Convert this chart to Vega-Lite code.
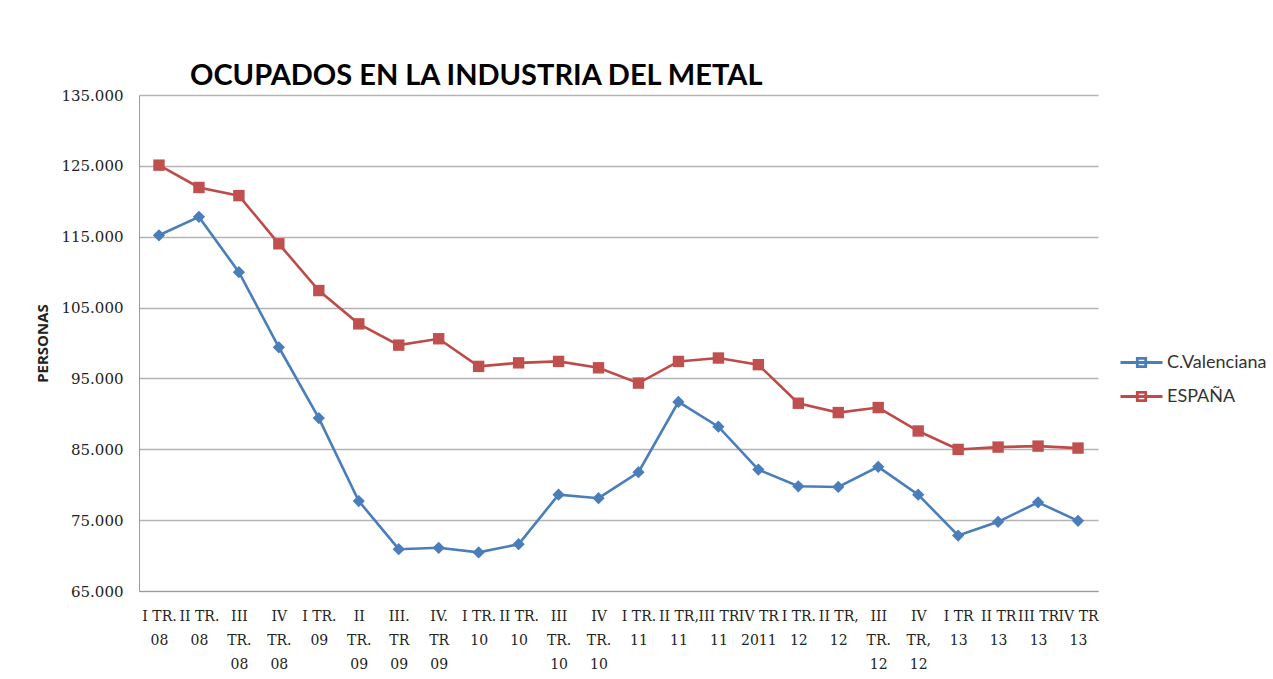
{
  "$schema": "https://vega.github.io/schema/vega-lite/v6.json",
  "autosize": {"type": "none"},
  "padding": {"left": 139, "top": 95, "right": 175, "bottom": 88},
  "width": 959,
  "height": 496,
  "background": "#ffffff",
  "title": {
    "text": "OCUPADOS EN LA INDUSTRIA DEL METAL",
    "anchor": "start",
    "frame": "group",
    "dx": 51,
    "offset": -26,
    "baseline": "alphabetic",
    "font": "Lato",
    "fontSize": 29,
    "fontWeight": "bold",
    "color": "#000000"
  },
  "data": {
    "values": [
      {"trimestre": "I TR.|08", "serie": "C.Valenciana", "ocupados": 115200},
      {"trimestre": "II TR.|08", "serie": "C.Valenciana", "ocupados": 117800},
      {"trimestre": "III|TR.|08", "serie": "C.Valenciana", "ocupados": 110000},
      {"trimestre": "IV|TR.|08", "serie": "C.Valenciana", "ocupados": 99400},
      {"trimestre": "I TR.|09", "serie": "C.Valenciana", "ocupados": 89400},
      {"trimestre": "II|TR.|09", "serie": "C.Valenciana", "ocupados": 77700},
      {"trimestre": "III.|TR|09", "serie": "C.Valenciana", "ocupados": 70900},
      {"trimestre": "IV.|TR|09", "serie": "C.Valenciana", "ocupados": 71100},
      {"trimestre": "I TR.|10", "serie": "C.Valenciana", "ocupados": 70450},
      {"trimestre": "II TR.|10", "serie": "C.Valenciana", "ocupados": 71600},
      {"trimestre": "III|TR.|10", "serie": "C.Valenciana", "ocupados": 78600},
      {"trimestre": "IV|TR.|10", "serie": "C.Valenciana", "ocupados": 78100},
      {"trimestre": "I TR.|11", "serie": "C.Valenciana", "ocupados": 81760},
      {"trimestre": "II TR,|11", "serie": "C.Valenciana", "ocupados": 91690},
      {"trimestre": "III TR|11", "serie": "C.Valenciana", "ocupados": 88190},
      {"trimestre": "IV TR|2011", "serie": "C.Valenciana", "ocupados": 82140},
      {"trimestre": "I TR.|12", "serie": "C.Valenciana", "ocupados": 79780},
      {"trimestre": "II TR,|12", "serie": "C.Valenciana", "ocupados": 79680},
      {"trimestre": "III|TR.|12", "serie": "C.Valenciana", "ocupados": 82520},
      {"trimestre": "IV|TR,|12", "serie": "C.Valenciana", "ocupados": 78590},
      {"trimestre": "I TR|13", "serie": "C.Valenciana", "ocupados": 72830},
      {"trimestre": "II TR|13", "serie": "C.Valenciana", "ocupados": 74760},
      {"trimestre": "III TR|13", "serie": "C.Valenciana", "ocupados": 77510},
      {"trimestre": "IV TR|13", "serie": "C.Valenciana", "ocupados": 74900},
      {"trimestre": "I TR.|08", "serie": "ESPAÑA", "ocupados": 125100},
      {"trimestre": "II TR.|08", "serie": "ESPAÑA", "ocupados": 121950},
      {"trimestre": "III|TR.|08", "serie": "ESPAÑA", "ocupados": 120800},
      {"trimestre": "IV|TR.|08", "serie": "ESPAÑA", "ocupados": 114000},
      {"trimestre": "I TR.|09", "serie": "ESPAÑA", "ocupados": 107400},
      {"trimestre": "II|TR.|09", "serie": "ESPAÑA", "ocupados": 102700},
      {"trimestre": "III.|TR|09", "serie": "ESPAÑA", "ocupados": 99700},
      {"trimestre": "IV.|TR|09", "serie": "ESPAÑA", "ocupados": 100600},
      {"trimestre": "I TR.|10", "serie": "ESPAÑA", "ocupados": 96700},
      {"trimestre": "II TR.|10", "serie": "ESPAÑA", "ocupados": 97200},
      {"trimestre": "III|TR.|10", "serie": "ESPAÑA", "ocupados": 97400},
      {"trimestre": "IV|TR.|10", "serie": "ESPAÑA", "ocupados": 96500},
      {"trimestre": "I TR.|11", "serie": "ESPAÑA", "ocupados": 94340},
      {"trimestre": "II TR,|11", "serie": "ESPAÑA", "ocupados": 97400},
      {"trimestre": "III TR|11", "serie": "ESPAÑA", "ocupados": 97880},
      {"trimestre": "IV TR|2011", "serie": "ESPAÑA", "ocupados": 96940},
      {"trimestre": "I TR.|12", "serie": "ESPAÑA", "ocupados": 91500},
      {"trimestre": "II TR,|12", "serie": "ESPAÑA", "ocupados": 90180},
      {"trimestre": "III|TR.|12", "serie": "ESPAÑA", "ocupados": 90890},
      {"trimestre": "IV|TR,|12", "serie": "ESPAÑA", "ocupados": 87580},
      {"trimestre": "I TR|13", "serie": "ESPAÑA", "ocupados": 84980},
      {"trimestre": "II TR|13", "serie": "ESPAÑA", "ocupados": 85310},
      {"trimestre": "III TR|13", "serie": "ESPAÑA", "ocupados": 85450},
      {"trimestre": "IV TR|13", "serie": "ESPAÑA", "ocupados": 85170}
    ]
  },
  "encoding": {
    "x": {
      "field": "trimestre",
      "type": "ordinal",
      "sort": null,
      "scale": {"type": "point", "padding": 0.5},
      "axis": {
        "title": null,
        "labelAngle": 0,
        "labelOverlap": false,
        "labelExpr": "split(datum.value, '|')",
        "labelFont": "DejaVu Serif",
        "labelFontSize": 14,
        "labelColor": "#222222",
        "labelLineHeight": 24,
        "labelBaseline": "top",
        "labelPadding": 18,
        "ticks": false,
        "domain": true,
        "domainColor": "#999999",
        "domainWidth": 1,
        "grid": false
      }
    },
    "y": {
      "field": "ocupados",
      "type": "quantitative",
      "scale": {"domain": [65000, 135000], "nice": false, "zero": false},
      "axis": {
        "title": "PERSONAS",
        "titleFont": "Open Sans",
        "titleFontSize": 15,
        "titleFontWeight": "bold",
        "titleColor": "#222222",
        "titlePadding": 10,
        "values": [65000, 75000, 85000, 95000, 105000, 115000, 125000, 135000],
        "labelExpr": "replace(format(datum.value, ','), ',', '.')",
        "labelFont": "DejaVu Serif",
        "labelFontSize": 15,
        "labelColor": "#222222",
        "labelPadding": 16,
        "ticks": false,
        "domain": true,
        "domainColor": "#999999",
        "grid": true,
        "gridColor": "#b4b4b4",
        "gridWidth": 1.3
      }
    }
  },
  "layer": [
    {
      "mark": {"type": "line", "strokeWidth": 2.6},
      "encoding": {
        "color": {
          "field": "serie",
          "type": "nominal",
          "scale": {"domain": ["C.Valenciana", "ESPAÑA"], "range": ["#4A7EBB", "#BE4B48"]},
          "legend": {
            "orient": "none",
            "legendX": 980,
            "legendY": 245,
            "title": null,
            "labelFont": "Lato",
            "labelFontSize": 18,
            "labelColor": "#333333",
            "labelOffset": 3,
            "symbolType": "M-1,0H1M-0.2,-0.2H0.2V0.2H-0.2Z",
            "symbolSize": 1764,
            "symbolStrokeWidth": 2.8,
            "rowPadding": 1
          }
        }
      }
    },
    {
      "transform": [{"filter": "datum.serie === 'C.Valenciana'"}],
      "mark": {"type": "point", "filled": true, "opacity": 1, "shape": "diamond", "color": "#4A7EBB", "size": 150}
    },
    {
      "transform": [{"filter": "datum.serie === 'ESPAÑA'"}],
      "mark": {"type": "point", "filled": true, "opacity": 1, "shape": "square", "color": "#C0504D", "size": 130}
    }
  ],
  "config": {
    "view": {"stroke": null}
  }
}
